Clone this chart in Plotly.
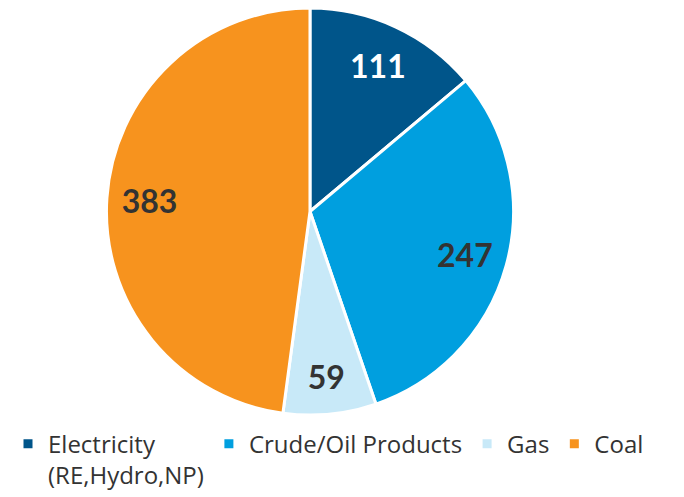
import plotly.graph_objects as go

labels = ["Electricity<br>(RE,Hydro,NP)", "Crude/Oil Products", "Gas", "Coal"]
values = [111, 247, 59, 383]
colors = ["#00558A", "#009FDF", "#C8E9F8", "#F7931E"]
text_colors = ["white", "#333333", "#333333", "#333333"]

dom = dict(x=[0.1415, 0.7415], y=[0.181, 1.0])

fig = go.Figure()
# the coloured slices and the legend
fig.add_trace(go.Pie(
    labels=labels, values=values, sort=False, direction="clockwise",
    marker=dict(colors=colors, line=dict(color="white", width=3)),
    textinfo="none", domain=dom, hoverinfo="label+value",
))
# transparent ring on top so the values sit out toward the rim
fig.add_trace(go.Pie(
    labels=labels, values=values, sort=False, direction="clockwise", hole=0.58,
    marker=dict(colors=["rgba(0,0,0,0)"] * 4, line=dict(width=0)),
    textinfo="value", textposition="inside", insidetextorientation="horizontal",
    textfont=dict(family="Lato", size=32, color=text_colors, weight="bold"),
    domain=dom, hoverinfo="skip", showlegend=False,
))

fig.update_layout(
    width=684, height=497,
    margin=dict(l=0, r=0, t=0, b=0),
    paper_bgcolor="white",
    showlegend=True,
    legend=dict(orientation="h", x=0, y=0.015, xanchor="left", yanchor="bottom",
                valign="top",
                font=dict(family="Open Sans", size=24, color="#333333"),
                traceorder="normal"),
)

fig.write_html("out.html")
